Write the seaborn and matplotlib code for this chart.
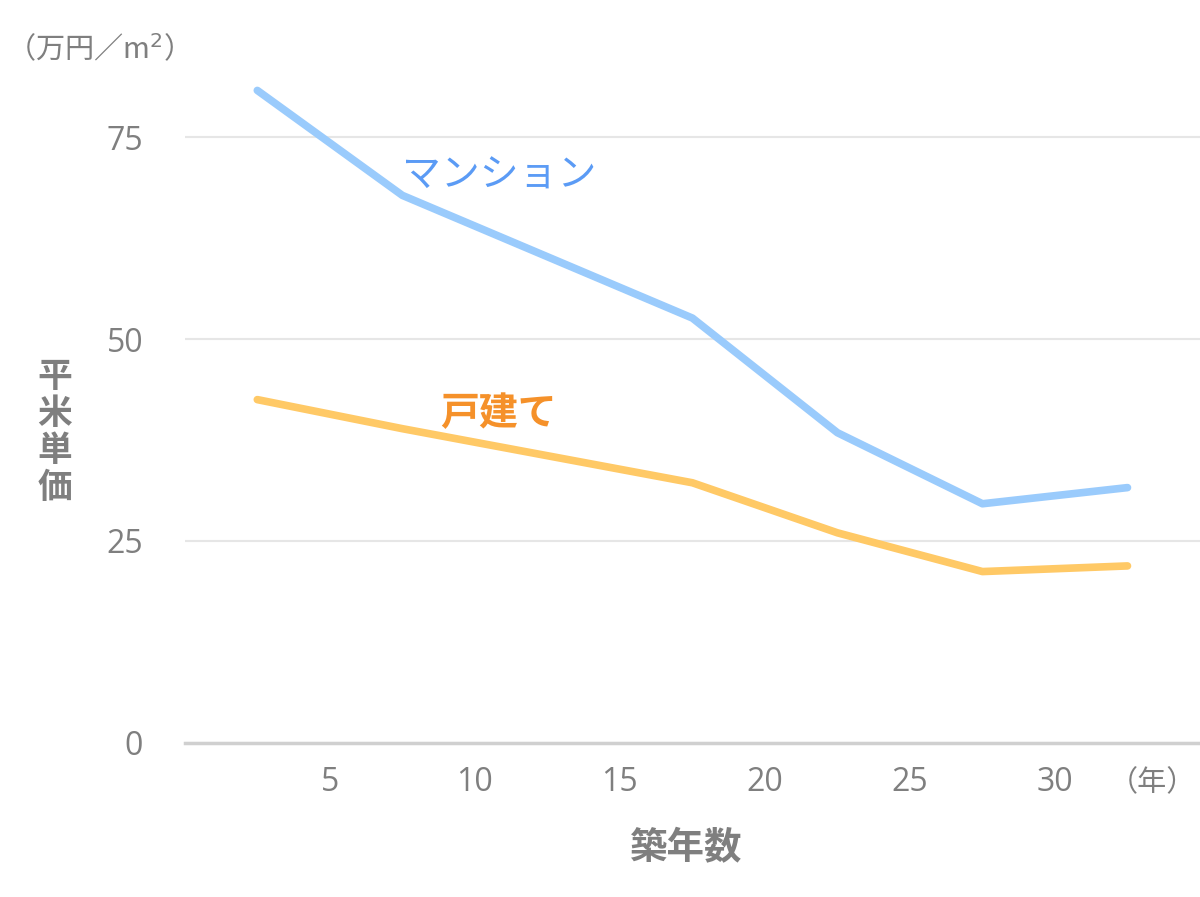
import numpy as np
import pandas as pd
import matplotlib.pyplot as plt
import seaborn as sns

# ==========================================================
# Data
# ==========================================================

years = [2.5, 7.5, 17.5, 22.5, 27.5, 32.5]
mansion = [80.8, 67.8, 52.6, 38.4, 29.6, 31.6]
kodate = [42.5, 38.9, 32.2, 26.0, 21.2, 21.9]

series_names = ["マンション", "戸建て"]
line_colors = ["#9ACBFC", "#FFC966"]
label_colors = ["#5B9BF5", "#F5912A"]
xticks = [5, 10, 15, 20, 25, 30]
yticks = [0, 25, 50, 75]

df = pd.DataFrame({
    "築年数": years * 2,
    "平米単価": mansion + kodate,
    "種別": [series_names[0]] * len(years) + [series_names[1]] * len(years),
})

# ==========================================================
# Plot
# ==========================================================

sns.set_theme(style="white")
plt.rcParams["font.family"] = ["Noto Sans CJK JP", "DejaVu Sans"]

gray = "#7F7F7F"

fig = plt.figure(figsize=(12, 8.97), dpi=100)
ax = fig.add_axes([0.154, 0.172, 0.846, 0.81])

sns.lineplot(
    data=df,
    x="築年数",
    y="平米単価",
    hue="種別",
    palette=dict(zip(series_names, line_colors)),
    linewidth=5.5,
    legend=False,
    ax=ax,
)

ax.set_xlim(0, 35)
ax.set_ylim(0, 90)
ax.set_xticks(xticks)
ax.set_yticks(yticks)
ax.tick_params(axis="both", length=0, labelsize=23, labelcolor=gray)
ax.tick_params(axis="y", pad=30)
ax.tick_params(axis="x", pad=17)
for lbl in ax.get_xticklabels() + ax.get_yticklabels():
    lbl.set_family(["Open Sans", "DejaVu Sans"])

ax.grid(axis="y", color="#E6E6E6", linewidth=1.5)
ax.set_axisbelow(True)
for side in ["top", "right", "left"]:
    ax.spines[side].set_visible(False)
ax.spines["bottom"].set_color("#D0D0D0")
ax.spines["bottom"].set_linewidth(2.5)

ax.set_xlabel("")
ax.set_ylabel("")

# Series labels
ax.text(7.5, 70.3, series_names[0], color=label_colors[0], fontsize=28,
        ha="left", va="center")
ax.text(8.8, 40.8, series_names[1], color=label_colors[1], fontsize=28,
        fontweight="bold", ha="left", va="center")

# Axis titles and units
fig.text(686 / 1200, 1 - 848 / 897, "築年数", color=gray, fontsize=27,
         fontweight="bold", ha="center", va="center")
fig.text(55 / 1200, 1 - 432 / 897, "\n".join("平米単価"), color=gray,
         fontsize=25, fontweight="bold", ha="center", va="center",
         linespacing=1.08)
fig.text(1152 / 1200, 1 - 783 / 897, "（年）", color=gray, fontsize=21,
         ha="center", va="center")
fig.text(6 / 1200, 1 - 50 / 897, "（万円／m$^2$）", color=gray, fontsize=21,
         ha="left", va="center")

plt.savefig("out.png", dpi=100)
plt.close()
